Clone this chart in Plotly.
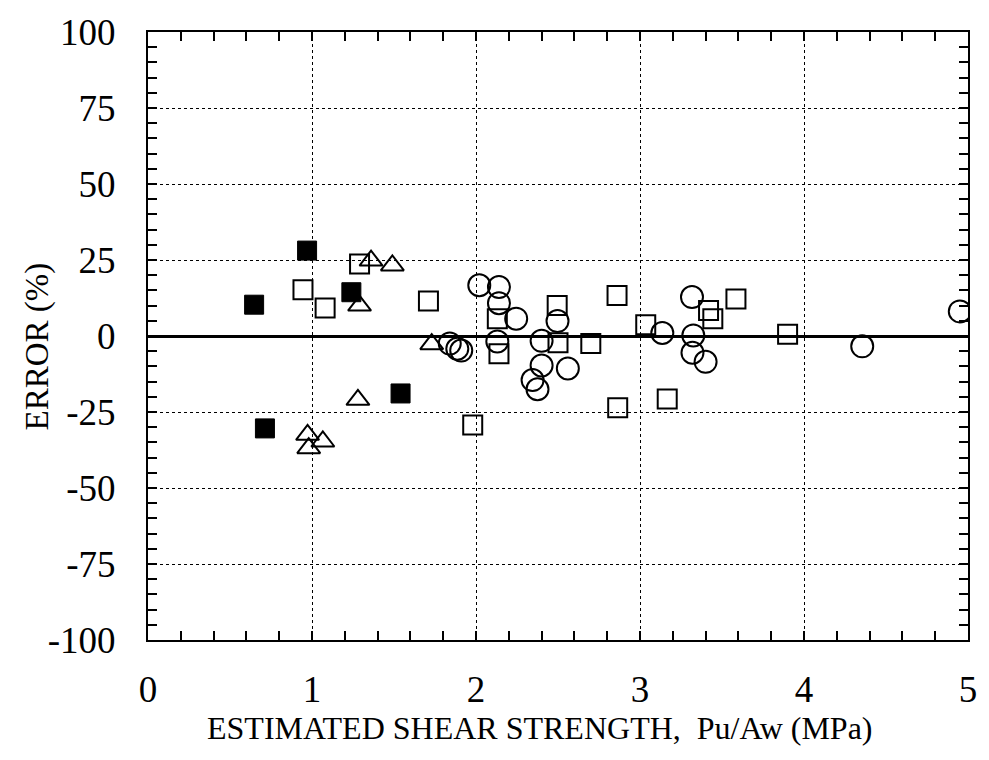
import plotly.graph_objects as go

# Filled squares
fs_x = [0.97, 0.647, 1.24, 0.713, 1.54]
fs_y = [28.1, 10.3, 14.4, -30.4, -18.9]

# Open triangles
tr_x = [0.973, 1.066, 0.98, 1.36, 1.49, 1.29, 1.73, 1.28]
tr_y = [-32.5, -34.7, -36.9, 24.8, 23.2, 10.0, -2.7, -21.0]

# Open squares
sq_x = [0.945, 1.08, 1.29, 1.71, 1.98, 2.13, 2.14, 2.495, 2.50, 2.70, 2.86, 2.864,
        3.035, 3.166, 3.418, 3.444, 3.585, 3.90]
sq_y = [15.2, 9.2, 23.7, 11.5, -29.3, 5.7, -5.8, 10.0, -2.2, -2.5, 13.3, -23.6,
        3.7, -20.7, 8.4, 5.7, 12.2, 0.6]

# Open circles
ci_x = [2.02, 2.14, 2.14, 2.245, 1.84, 1.886, 1.91, 2.13, 2.40, 2.40, 2.345, 2.375,
        2.497, 2.56, 3.136, 3.317, 3.325, 3.32, 3.40, 4.355, 4.95]
ci_y = [16.7, 16.1, 10.8, 5.7, -2.5, -4.2, -4.8, -1.8, -1.6, -9.7, -14.5, -17.5,
        4.9, -10.7, 1.0, 12.8, 0.2, -5.5, -8.5, -3.4, 8.1]

x_ticks = [0, 1, 2, 3, 4, 5]
y_ticks = [-100, -75, -50, -25, 0, 25, 50, 75, 100]

FONT = "Liberation Serif, Times New Roman, serif"

fig = go.Figure()
fig.add_trace(go.Scatter(x=sq_x, y=sq_y, mode="markers",
                         marker=dict(symbol="square-open", size=19, color="black",
                                     line=dict(width=2, color="black"))))
fig.add_trace(go.Scatter(x=tr_x, y=tr_y, mode="markers",
                         marker=dict(symbol="triangle-up-open", size=20, color="black",
                                     line=dict(width=2, color="black"))))
fig.add_trace(go.Scatter(x=fs_x, y=fs_y, mode="markers",
                         marker=dict(symbol="square", size=19, color="black",
                                     line=dict(width=1, color="black"))))
fig.add_trace(go.Scatter(x=ci_x, y=ci_y, mode="markers",
                         marker=dict(symbol="circle-open", size=22, color="black",
                                     line=dict(width=2, color="black"))))

axis_common = dict(
    showline=True, linecolor="black", linewidth=2, mirror="allticks",
    ticks="inside", ticklen=9, tickwidth=2, tickcolor="black",
    showgrid=True, gridcolor="black", griddash="dot", gridwidth=1.3,
    tickfont=dict(family=FONT, size=37, color="black"),
)

fig.update_layout(
    width=989, height=760,
    margin=dict(l=148, r=14, t=29, b=120),
    paper_bgcolor="white", plot_bgcolor="white",
    showlegend=False,
    font=dict(family=FONT, color="black"),
    xaxis=dict(range=[0, 5], tickvals=x_ticks, ticktext=[str(v) for v in x_ticks],
               minor=dict(dtick=0.2, ticks="inside", ticklen=9, tickwidth=2,
                          tickcolor="black", showgrid=False),
               zeroline=False, ticklabelstandoff=16, **axis_common),
    yaxis=dict(range=[-100, 100], tickvals=y_ticks, ticktext=[str(v) for v in y_ticks],
               minor=dict(dtick=5, ticks="inside", ticklen=9, tickwidth=2,
                          tickcolor="black", showgrid=False),
               zeroline=True, zerolinecolor="black", zerolinewidth=2.5,
               ticklabelstandoff=23, **axis_common),
    annotations=[
        dict(text="ESTIMATED SHEAR STRENGTH,  Pu/Aw (MPa)", xref="paper", yref="paper",
             x=0.4776, y=-0.145, xanchor="center", yanchor="middle", showarrow=False,
             font=dict(family=FONT, size=32, color="black")),
        dict(text="ERROR (%)", xref="paper", yref="paper", textangle=-90,
             x=-0.1354, y=0.4828, xanchor="center", yanchor="middle", showarrow=False,
             font=dict(family=FONT, size=33, color="black")),
    ],
)

fig.write_html("out.html")
